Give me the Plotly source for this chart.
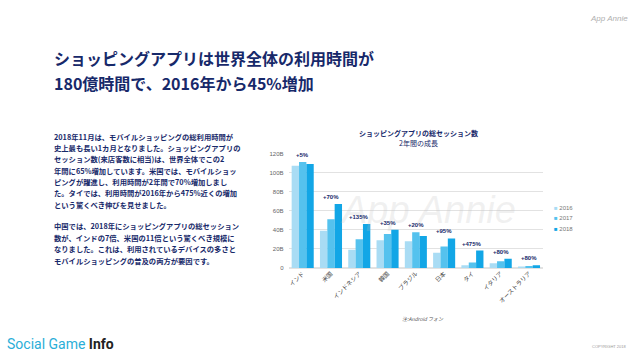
import plotly.graph_objects as go

# ---- data ----
categories = ["インド", "米国", "インドネシア", "韓国", "ブラジル", "日本", "タイ", "イタリア", "オーストラリア"]
years = ["2016", "2017", "2018"]
sessions_2016 = [107, 39, 19, 29, 28, 16, 3, 5, 1.5]
sessions_2017 = [111, 51, 30, 35.5, 37.5, 22.5, 5.7, 7, 2]
sessions_2018 = [109, 67, 46, 40, 33.5, 31, 18.3, 9.8, 2.9]
growth_labels = ["+5%", "+70%", "+135%", "+35%", "+20%", "+95%", "+475%", "+80%", "+80%"]
y_tick_values = [0, 20, 40, 60, 80, 100, 120]
y_tick_labels = ["0", "20B", "40B", "60B", "80B", "100B", "120B"]

title_lines = ["ショッピングアプリは世界全体の利用時間が", "180億時間で、2016年から45%増加"]
para1 = [
    "2018年11月は、モバイルショッピングの総利用時間が",
    "史上最も長い1カ月となりました。ショッピングアプリの",
    "セッション数(来店客数に相当)は、世界全体でこの2",
    "年間に65%増加しています。米国では、モバイルショッ",
    "ピングが躍進し、利用時間が2年間で70%増加しまし",
    "た。タイでは、利用時間が2016年から475%近くの増加",
    "という驚くべき伸びを見せました。",
]
para2 = [
    "中国では、2018年にショッピングアプリの総セッション",
    "数が、インドの7倍、米国の11倍という驚くべき規模に",
    "なりました。これは、利用されているデバイスの多さと",
    "モバイルショッピングの普及の両方が要因です。",
]
chart_title = "ショッピングアプリの総セッション数"
chart_subtitle = "2年間の成長"

colors = ["#a9dcf4", "#55c2ee", "#12a6e6"]
NAVY = "#17296a"
W, H = 640, 360


def px(x):
    return x / W


def py(y):
    return 1 - y / H


fig = go.Figure()
for name, vals, col in zip(years, [sessions_2016, sessions_2017, sessions_2018], colors):
    fig.add_trace(go.Bar(x=categories, y=vals, name=name, marker_color=col,
                         marker_line_width=0, showlegend=False))

ann = []


def text_at(x, y, text, size, color, family="Noto Sans CJK JP", xanchor="left"):
    ann.append(dict(x=px(x), y=py(y), xref="paper", yref="paper", xanchor=xanchor,
                    yanchor="middle", text=text, showarrow=False,
                    font=dict(family=family, size=size, color=color)))


# watermark (drawn first, faint)
text_at(428, 210, "<i>App Annie</i>", 38, "rgba(190,190,190,0.22)", "Liberation Sans", "center")

# growth labels above each group
for cat, a, b, c, lab in zip(categories, sessions_2016, sessions_2017, sessions_2018, growth_labels):
    ann.append(dict(x=cat, y=max(a, b, c), xref="x", yref="y", text="<b>" + lab + "</b>",
                    showarrow=False, yanchor="bottom", yshift=2,
                    font=dict(family="Liberation Sans", size=6, color=NAVY)))

# legend (manual)
for i, (name, col) in enumerate(zip(years, colors)):
    text_at(552, 208 + 11 * i, f'<span style="color:{col}">■</span> {name}', 6, "#777777",
            "Liberation Sans")

# chart title
text_at(418, 132, "<b>" + chart_title + "</b>", 7, NAVY, xanchor="center")
text_at(418, 142, chart_subtitle, 7, NAVY, xanchor="center")

# note
text_at(400, 321, "<i>注:Android フォン</i>", 5, "#555555")

# main title
for i, line in enumerate(title_lines):
    text_at(51, 56 + 25 * i, "<b>" + line + "</b>", 16, NAVY)

# paragraphs
for i, line in enumerate(para1):
    text_at(51, 136 + 11.5 * i, "<b>" + line + "</b>", 7.3, NAVY)
for i, line in enumerate(para2):
    text_at(51, 227 + 11.67 * i, "<b>" + line + "</b>", 7.3, NAVY)

# logos / footer
text_at(630, 16, "<i>App Annie</i>", 8, "#b0b0b0", "Liberation Sans", "right")
text_at(4, 347, '<span style="color:#2aaed8">Social Game </span><b>Info</b>', 14, "#222222", "Roboto")
text_at(628, 349, "COPYRIGHT 2018", 4, "#999999", "Liberation Sans", "right")

fig.update_layout(
    width=W, height=H, autosize=False,
    margin=dict(l=0, r=0, t=0, b=0),
    paper_bgcolor="white", plot_bgcolor="white",
    barmode="group", bargap=0.22, bargroupgap=0,
    annotations=ann,
    xaxis=dict(domain=[px(288), px(543)], tickangle=-45, showgrid=False, showline=False,
               ticks="", tickfont=dict(family="Noto Sans CJK JP", size=6, color="#444444")),
    yaxis=dict(domain=[py(269.5), py(153)], range=[0, 120], tickvals=y_tick_values,
               ticktext=y_tick_labels, showgrid=True, gridcolor="#e2e2e2", gridwidth=1,
               zeroline=True, zerolinecolor="#e2e2e2", ticks="", ticklabelstandoff=4,
               tickfont=dict(family="Liberation Sans", size=6, color="#666666")),
)

fig.write_html("out.html", config={"displayModeBar": False},
               post_script="document.body.style.margin='0';")
